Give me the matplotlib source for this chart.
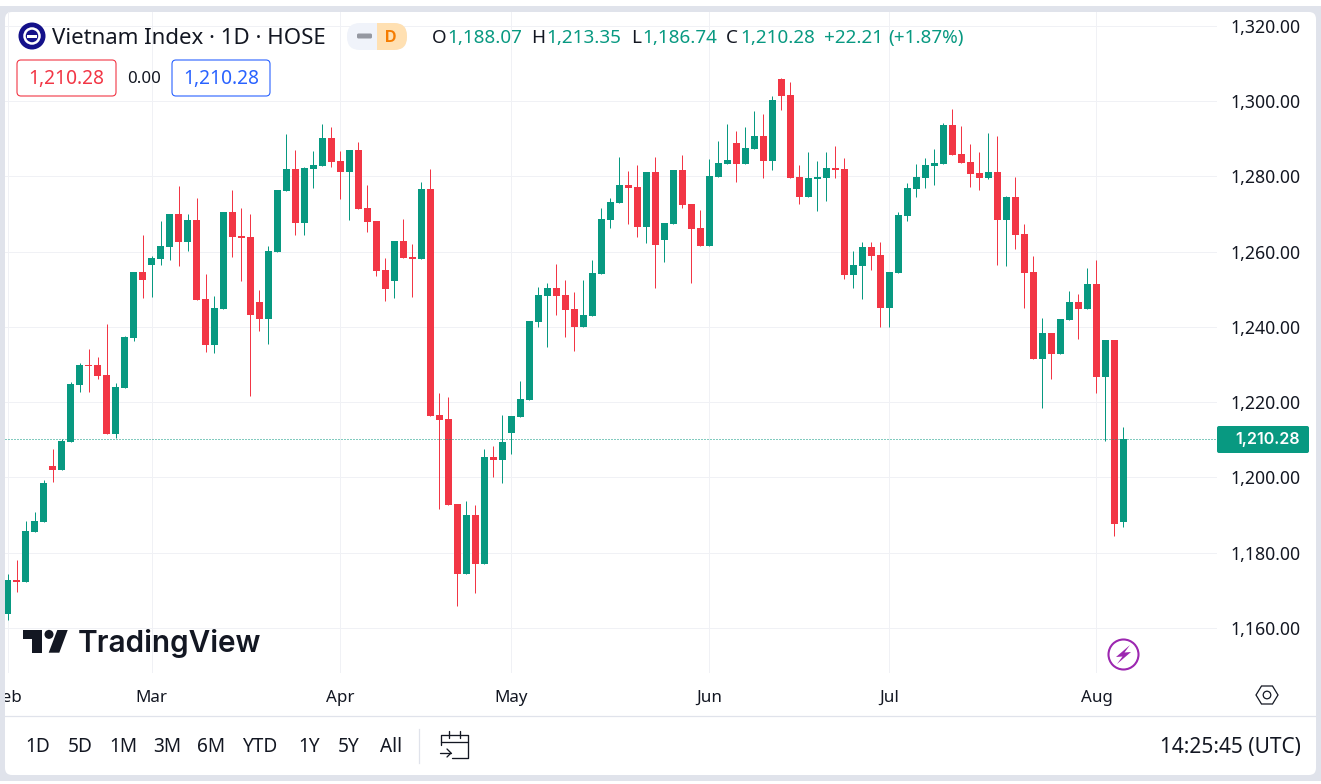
# -*- coding: utf-8 -*-
"""Vietnam Index daily candles, TradingView style."""

import matplotlib
matplotlib.use("Agg")
import matplotlib.pyplot as plt
from matplotlib.patches import Circle, FancyBboxPatch, Polygon, Rectangle
from matplotlib.transforms import Bbox
import numpy as np

# ── Data ──
opens = [
    1163.8, 1172.7, 1172.2, 1185.4, 1188.1, 1203.0, 1201.9, 1209.4, 1224.5, 1229.8,
    1229.8, 1227.2, 1211.5, 1223.7, 1237.0, 1254.6, 1256.4, 1258.0, 1261.2, 1270.0,
    1262.5, 1268.4, 1247.4, 1235.2, 1244.7, 1270.5, 1264.1, 1263.9, 1246.6, 1242.1,
    1259.9, 1276.1, 1281.9, 1267.6, 1281.9, 1282.7, 1290.2, 1284.1, 1281.1, 1287.0,
    1271.6, 1268.1, 1255.1, 1252.2, 1262.8, 1258.6, 1258.0, 1276.6, 1216.6, 1215.5,
    1192.9, 1174.3, 1190.0, 1177.0, 1205.4, 1204.6, 1211.8, 1216.0, 1220.5, 1241.3,
    1248.2, 1250.3, 1248.5, 1244.8, 1240.0, 1242.9, 1254.1, 1268.4, 1272.9, 1277.7,
    1277.2, 1266.5, 1281.1, 1263.1, 1267.3, 1281.7, 1272.6, 1266.3, 1261.5, 1279.8,
    1283.3, 1288.9, 1283.3, 1287.3, 1290.7, 1284.1, 1305.9, 1301.6, 1279.8, 1274.5,
    1279.3, 1279.6, 1282.2, 1281.9, 1253.8, 1256.2, 1261.2, 1259.1, 1245.0, 1254.3,
    1269.5, 1276.6, 1279.6, 1282.8, 1283.3, 1293.6, 1285.9, 1283.8, 1280.9, 1279.6,
    1281.2, 1268.4, 1274.5, 1264.7, 1254.6, 1231.5, 1238.4, 1232.8, 1241.8, 1246.6,
    1244.8, 1251.4, 1226.7, 1236.5, 1188.07,
]
highs = [
    1174.3, 1178.0, 1188.4, 1190.8, 1199.3, 1207.5, 1210.2, 1225.3, 1230.4, 1234.1,
    1232.0, 1240.7, 1225.1, 1237.5, 1254.6, 1264.4, 1258.8, 1268.1, 1270.0, 1277.4,
    1270.0, 1274.2, 1254.0, 1248.2, 1270.5, 1276.4, 1271.6, 1270.0, 1249.8, 1261.5,
    1276.4, 1291.2, 1287.0, 1282.5, 1286.7, 1293.9, 1293.1, 1286.7, 1287.0, 1289.1,
    1277.7, 1268.1, 1258.3, 1262.8, 1268.7, 1262.0, 1278.5, 1282.0, 1222.4, 1221.4,
    1192.9, 1193.7, 1192.6, 1207.5, 1208.3, 1216.6, 1216.3, 1225.6, 1241.6, 1250.6,
    1251.6, 1256.7, 1252.5, 1249.3, 1252.5, 1257.8, 1271.6, 1274.2, 1285.1, 1281.4,
    1283.0, 1281.1, 1285.1, 1267.6, 1281.7, 1285.7, 1272.6, 1271.0, 1284.6, 1289.4,
    1293.9, 1292.0, 1293.1, 1297.4, 1296.6, 1301.3, 1306.1, 1305.1, 1283.0, 1286.5,
    1284.1, 1286.5, 1288.1, 1284.9, 1260.1, 1262.5, 1262.5, 1262.5, 1254.6, 1270.5,
    1278.2, 1283.3, 1284.9, 1287.3, 1294.2, 1297.9, 1293.4, 1288.6, 1286.5, 1291.5,
    1290.7, 1274.8, 1279.8, 1267.3, 1258.8, 1242.4, 1238.4, 1242.1, 1249.5, 1248.7,
    1255.6, 1257.8, 1236.5, 1236.5, 1213.35,
]
lows = [
    1162.1, 1169.5, 1172.2, 1185.4, 1188.1, 1198.8, 1201.9, 1209.4, 1222.7, 1222.7,
    1226.1, 1211.5, 1210.4, 1223.7, 1236.2, 1247.6, 1247.9, 1256.4, 1257.7, 1256.2,
    1260.1, 1247.1, 1233.3, 1233.0, 1244.7, 1258.5, 1252.2, 1221.6, 1238.9, 1235.4,
    1259.9, 1276.1, 1264.4, 1264.4, 1276.9, 1282.7, 1282.5, 1274.0, 1268.4, 1271.3,
    1265.2, 1253.5, 1246.9, 1247.7, 1258.3, 1248.0, 1258.0, 1216.3, 1191.6, 1192.6,
    1165.8, 1174.3, 1169.3, 1177.0, 1200.1, 1198.5, 1206.2, 1216.0, 1220.5, 1240.0,
    1234.7, 1243.2, 1237.3, 1233.6, 1240.0, 1242.9, 1254.1, 1266.3, 1272.9, 1267.3,
    1263.9, 1262.3, 1250.3, 1257.2, 1267.3, 1271.6, 1251.6, 1261.5, 1261.5, 1279.8,
    1283.3, 1278.5, 1283.3, 1287.3, 1279.6, 1281.7, 1297.6, 1279.6, 1272.6, 1274.5,
    1270.8, 1273.4, 1279.6, 1252.7, 1250.3, 1247.4, 1255.1, 1240.0, 1240.0, 1254.3,
    1268.1, 1274.5, 1276.9, 1277.7, 1283.3, 1285.7, 1283.6, 1277.2, 1276.4, 1279.3,
    1256.4, 1256.2, 1260.7, 1245.0, 1231.5, 1218.4, 1226.1, 1232.8, 1241.8, 1236.8,
    1244.8, 1222.4, 1209.7, 1184.4, 1186.74,
]
closes = [
    1172.7, 1172.2, 1185.7, 1188.4, 1198.5, 1201.9, 1209.6, 1224.8, 1229.8, 1229.6,
    1226.9, 1211.5, 1224.0, 1237.3, 1254.6, 1252.4, 1258.3, 1261.5, 1270.0, 1262.5,
    1268.4, 1247.1, 1235.2, 1245.0, 1270.5, 1263.9, 1263.6, 1243.1, 1242.1, 1260.1,
    1276.4, 1281.9, 1267.6, 1282.2, 1283.0, 1290.2, 1283.8, 1281.1, 1287.0, 1271.3,
    1267.9, 1254.8, 1250.1, 1262.8, 1258.3, 1258.0, 1276.6, 1216.3, 1215.2, 1192.6,
    1174.3, 1190.0, 1177.0, 1205.4, 1204.6, 1209.4, 1216.3, 1220.8, 1241.6, 1248.5,
    1250.3, 1248.2, 1244.5, 1240.0, 1243.2, 1254.3, 1268.7, 1273.2, 1277.7, 1276.9,
    1266.5, 1281.1, 1261.8, 1267.6, 1281.7, 1272.4, 1266.0, 1261.5, 1280.1, 1283.5,
    1284.3, 1283.3, 1287.5, 1290.7, 1284.1, 1300.3, 1301.3, 1279.6, 1274.5, 1279.6,
    1279.8, 1282.2, 1281.7, 1253.8, 1256.4, 1261.2, 1258.8, 1245.0, 1254.6, 1269.7,
    1276.9, 1279.8, 1283.0, 1283.6, 1293.6, 1285.7, 1283.6, 1280.6, 1279.6, 1281.2,
    1268.4, 1274.5, 1264.4, 1254.3, 1231.5, 1238.4, 1232.8, 1242.1, 1246.6, 1244.8,
    1251.4, 1226.7, 1236.5, 1187.6, 1210.28,
]
month_idx = [0, 16, 37, 56, 78, 98, 121]
month_labels = ["Feb", "Mar", "Apr", "May", "Jun", "Jul", "Aug"]
price_ticks = [1160, 1180, 1200, 1220, 1240, 1260, 1280, 1300, 1320]
last_price = 1210.28
ranges = ["1D", "5D", "1M", "3M", "6M", "YTD", "1Y", "5Y", "All"]

# ── Colours ──
GREEN = "#089981"
RED = "#f23645"
BLUE = "#2962ff"
INK = "#131722"
FRAME = "#e0e3eb"
GRID = "#f0f1f5"
FONT = "Noto Sans"

W, H = 1321, 784

plt.rcParams["font.family"] = [FONT, "DejaVu Sans"]
fig = plt.figure(figsize=(W / 100, H / 100), dpi=100, facecolor="white")


def px_axes(zorder):
    """Full-figure axes in pixel coordinates, for the chart furniture."""
    a = fig.add_axes([0, 0, 1, 1], zorder=zorder)
    a.set_xlim(0, W)
    a.set_ylim(H, 0)
    a.axis("off")
    a.patch.set_alpha(0)
    return a


# ── Panel behind the chart ──
back = px_axes(0)
back.add_patch(Rectangle((0, 6), W, 775, fc=FRAME, ec="none"))
back.add_patch(FancyBboxPatch((9, 16), 1303, 755, boxstyle="round,pad=4,rounding_size=7",
                              fc="white", ec="none"))
back.add_patch(FancyBboxPatch((9, 785), 1303, 20, boxstyle="round,pad=4,rounding_size=7",
                              fc="white", ec="none"))

# ── Candles ──
ax = fig.add_axes([5 / W, 1 - 673 / H, (1217 - 5) / W, (673 - 12) / H], zorder=1)
ax.patch.set_alpha(0)
for side in ax.spines.values():
    side.set_visible(False)

xs = np.arange(len(closes))
o, h, l, c = map(np.array, (opens, highs, lows, closes))
colors = np.where(c >= o, GREEN, RED)

ax.vlines(xs, l, h, colors=colors, linewidth=0.72, zorder=3)
ax.bar(xs, np.abs(c - o), bottom=np.minimum(o, c), width=7 / 9, color=colors,
       linewidth=0, antialiased=False, zorder=4)
ax.axhline(last_price, color=GREEN, linewidth=0.72, linestyle=(0, (1, 2)), zorder=5)

ax.set_xlim(-0.278, 134.39)
ax.set_ylim(1148.0, 1323.7)

ax.set_xticks(month_idx)
ax.set_xticklabels(month_labels)
ax.set_yticks(price_ticks)
ax.set_yticklabels([f"{p:,.2f}" for p in price_ticks])
ax.yaxis.tick_right()
ax.grid(True, color=GRID, linewidth=0.72, zorder=0)
ax.set_axisbelow(True)
ax.tick_params(axis="y", length=0, pad=10, labelsize=12.7, labelcolor=INK)
ax.tick_params(axis="x", length=0, pad=12, labelsize=12.2, labelcolor=INK)
for lab in ax.get_xticklabels():
    lab.set_clip_box(Bbox([[5, 0], [W, H]]))
    lab.set_clip_on(True)

# ── Everything drawn over the chart ──
top = px_axes(2)

# Last price tag
top.add_patch(FancyBboxPatch((1219, 428), 88, 23, boxstyle="round,pad=2,rounding_size=2",
                             fc=GREEN, ec="none"))
top.text(1267, 439.5, f"{last_price:,.2f}", color="white", fontsize=11.6, fontweight="semibold",
         family="Inter", ha="center", va="center")

# Symbol line
top.add_patch(Circle((32, 36), 13.5, fc="#14118a", ec="none"))
top.add_patch(Circle((32, 36), 7.5, fc="none", ec="white", lw=1.8))
top.add_patch(Rectangle((27, 34.5), 10, 3, fc="white", ec="none"))
top.text(52, 38, "Vietnam Index · 1D · HOSE", color=INK, fontsize=16.0, ha="left", va="center")

# Market status pill
top.add_patch(FancyBboxPatch((360, 36), 34, 1, boxstyle="round,pad=13,rounding_size=13",
                             fc="#f0f3fa", ec="none"))
pill_right = FancyBboxPatch((360, 36), 34, 1, boxstyle="round,pad=13,rounding_size=13",
                            fc="#ffe0b2", ec="none")
top.add_patch(pill_right)
pill_right.set_clip_path(Rectangle((377, 20), 40, 40, transform=top.transData))
top.add_patch(FancyBboxPatch((358.5, 35), 12, 2, boxstyle="round,pad=1.5,rounding_size=1.5",
                             fc="#9598a1", ec="none"))
top.text(390.5, 37, "D", color="#f57c00", fontsize=11.5, fontweight="bold", family="Inter",
         ha="center", va="center")

# OHLC read-out
for x, txt, col in [
    (432, "O", INK), (447, "1,188.07", GREEN),
    (531, "H", INK), (546, "1,213.35", GREEN),
    (631, "L", INK), (642, "1,186.74", GREEN),
    (726, "C", INK), (740, "1,210.28", GREEN),
    (824, "+22.21", GREEN), (888, "(+1.87%)", GREEN),
]:
    top.text(x, 38, txt, color=col, fontsize=13.6, ha="left", va="center")

# Bid / ask boxes
top.add_patch(FancyBboxPatch((20, 63), 93, 30, boxstyle="round,pad=3,rounding_size=4",
                             fc="white", ec=RED, lw=0.8))
top.text(66.5, 79, "1,210.28", color=RED, fontsize=13.8, ha="center", va="center")
top.text(144, 79, "0.00", color=INK, fontsize=12.1, ha="center", va="center")
top.add_patch(FancyBboxPatch((175, 63), 92, 30, boxstyle="round,pad=3,rounding_size=4",
                             fc="white", ec=BLUE, lw=0.8))
top.text(221, 79, "1,210.28", color=BLUE, fontsize=13.8, ha="center", va="center")

# TradingView logo
top.add_patch(Polygon([(23, 630), (41.7, 630), (41.7, 652.7), (32, 652.7), (32, 639.3), (23, 639.3)],
                      fc=INK, ec="none"))
top.add_patch(Circle((49, 634.4), 4.5, fc=INK, ec="none"))
top.add_patch(Polygon([(57.3, 630), (67.7, 630), (59.3, 652.7), (48.7, 652.7)], fc=INK, ec="none"))
top.text(78, 644, "TradingView", color=INK, fontsize=21.4, fontweight="semibold",
         family="Inter", ha="left", va="center")

# Lightning marker
top.add_patch(Circle((1123.5, 654.5), 15, fc="white", ec="#9c27b0", lw=1.5))
top.add_patch(Polygon([(1130, 645), (1116, 657), (1122.5, 656.5), (1117, 664),
                       (1131, 652), (1124.5, 652.5)], fc="#9c27b0", ec="none"))

# Settings hexagon on the time scale
top.add_patch(Polygon([(1256, 695), (1261.5, 686), (1272.5, 686), (1278, 695),
                       (1272.5, 704), (1261.5, 704)], fc="white", ec=INK, lw=0.9))
top.add_patch(Circle((1267, 695), 3.8, fc="white", ec=INK, lw=0.9))

# Bottom toolbar
top.plot([5, 1316], [716, 716], color=FRAME, lw=0.9)
for cx, txt in zip([38, 80, 123, 167, 211, 260, 309, 349, 391], ranges):
    top.text(cx, 747, txt, color=INK, fontsize=13.7, ha="center", va="center")
top.plot([419, 419], [729, 763], color=FRAME, lw=0.9)
top.text(1301, 747, "14:25:45 (UTC)", color=INK, fontsize=15, ha="right", va="center")

# Go-to-date icon
cal = dict(color=INK, lw=0.95, solid_capstyle="round")
top.plot([441, 441, 468, 468, 452], [745, 735, 735, 758, 758], **cal)
top.plot([441, 468], [742, 742], **cal)
top.plot([449, 449], [731, 738], **cal)
top.plot([460, 460], [731, 738], **cal)
top.plot([440, 451], [753, 753], **cal)
top.plot([447, 451, 447], [749, 753, 757], **cal)

fig.savefig("out.png", dpi=100, facecolor="white")
